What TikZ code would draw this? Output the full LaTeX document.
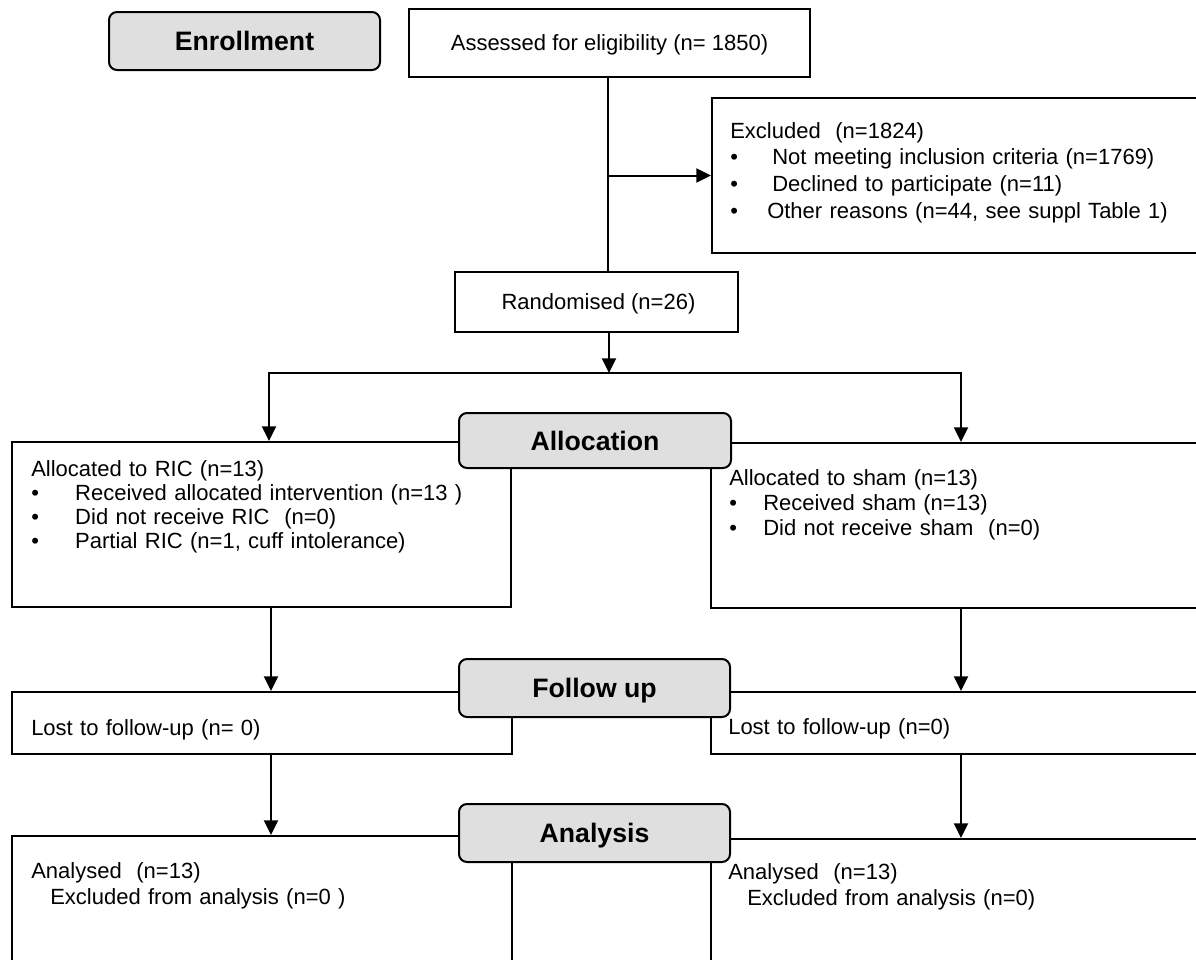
\documentclass[tikz,border=0pt]{standalone}
\usepackage{fontspec}
\setmainfont{Liberation Sans}
\usetikzlibrary{arrows.meta,fit}
\newdimen\px \px=0.75pt
\begin{document}
\begin{tikzpicture}[x=0.75pt,y=-0.75pt,
  box/.style={draw, line width=1.5pt, inner sep=0pt},
  head/.style={draw, line width=1.5pt, fill=gray!25, rounded corners=6pt, inner sep=0pt},
  htext/.style={inner sep=0pt, anchor=base, yshift=-7.2pt, font=\fontsize{20}{24}\selectfont\bfseries},
  ctext/.style={inner sep=0pt, anchor=base, yshift=-5.9pt, font=\fontsize{16.5}{20}\selectfont},
  txt/.style={inner sep=0pt, anchor=base west, align=left, text width=470\px},
  conn/.style={line width=1.5pt},
  arr/.style={conn, -{Triangle[length=11pt,width=10.5pt]}}]
\useasboundingbox (0,0) rectangle (1196,960);
\clip (0,0) rectangle (1196,960);

% plain boxes
\node[box, fit={(409,9) (810,77)}] (assess) {};
\node[ctext] (assessT) at (assess.center) {Assessed for eligibility (n= 1850)};
\node[box, fit={(712,98) (1220,253)}] (excl) {};
\node[box, fit={(455,272) (738,332)}] (rand) {};
\node[ctext] (randT) at ([xshift=1.5pt]rand.center) {Randomised (n=26)};
\node[box, fit={(12,442) (511,607)}] (ric) {};
\node[box, fit={(711,443) (1220,608)}] (sham) {};
\node[box, fit={(12,692) (512,754)}] (lostL) {};
\node[box, fit={(711,692) (1220,754)}] (lostR) {};
\node[box, fit={(12,836) (512,990)}] (anL) {};
\node[box, fit={(711,839) (1220,990)}] (anR) {};

% texts
\node[txt, font=\fontsize{16.5}{20}\selectfont] (exclT) at (730,138)
  {Excluded\ \ (n=1824)\\
   \makebox[42\px][l]{•}Not meeting inclusion criteria (n=1769)\\
   \makebox[42\px][l]{•}Declined to participate (n=11)\\
   \makebox[37\px][l]{•}Other reasons (n=44, see suppl Table 1)};
\node[txt, font=\fontsize{16.5}{18}\selectfont] (ricT) at (31,476)
  {Allocated to RIC (n=13)\\
   \makebox[44\px][l]{•}Received allocated intervention (n=13 )\\
   \makebox[44\px][l]{•}Did not receive RIC\ \ (n=0)\\
   \makebox[44\px][l]{•}Partial RIC (n=1, cuff intolerance)};
\node[txt, font=\fontsize{16.5}{19}\selectfont] (shamT) at (729,485)
  {Allocated to sham (n=13)\\
   \makebox[34\px][l]{•}Received sham (n=13)\\
   \makebox[34\px][l]{•}Did not receive sham\ \ (n=0)};
\node[txt, font=\fontsize{16.5}{20}\selectfont] (lostLT) at (31,735) {Lost to follow-up (n= 0)};
\node[txt, font=\fontsize{16.5}{20}\selectfont] (lostRT) at (728,734) {Lost to follow-up (n=0)};
\node[txt, font=\fontsize{16.5}{19.5}\selectfont] (anLT) at (31,878)
  {Analysed\ \ (n=13)\\\hspace*{19\px}Excluded from analysis (n=0 )};
\node[txt, font=\fontsize{16.5}{19.5}\selectfont] (anRT) at (728,879)
  {Analysed\ \ (n=13)\\\hspace*{19\px}Excluded from analysis (n=0)};

% connectors
\coordinate (v) at (608,0);
\coordinate (split) at (609,373);
\coordinate (sL) at (269,373);
\coordinate (sR) at (961,373);
\coordinate (cL) at (271,0);
\coordinate (cR) at (961,0);
\draw[conn] (assess.south -| v) -- (rand.north -| v);
\draw[arr] (v |- excl.west) -- (excl.west);
\draw[arr] (rand.south -| split) -- (split);
\draw[arr] (split) -| (sL |- ric.north);
\draw[arr] (split) -| (sR |- sham.north);
\draw[arr] (ric.south -| cL) -- (cL |- lostL.north);
\draw[arr] (sham.south -| cR) -- (cR |- lostR.north);
\draw[arr] (lostL.south -| cL) -- (cL |- anL.north);
\draw[arr] (lostR.south -| cR) -- (cR |- anR.north);

% stage headers
\node[head, fit={(109,12) (380,70)}] (enroll) {};
\node[htext] (enrollT) at (enroll.center) {Enrollment};
\node[head, fit={(459,413) (731,468)}] (alloc) {};
\node[htext] (allocT) at (alloc.center) {Allocation};
\node[head, fit={(459,659) (730,717)}] (follow) {};
\node[htext] (followT) at (follow.center) {Follow up};
\node[head, fit={(459,804) (730,862)}] (analysis) {};
\node[htext] (analysisT) at (analysis.center) {Analysis};
\end{tikzpicture}
\end{document}
